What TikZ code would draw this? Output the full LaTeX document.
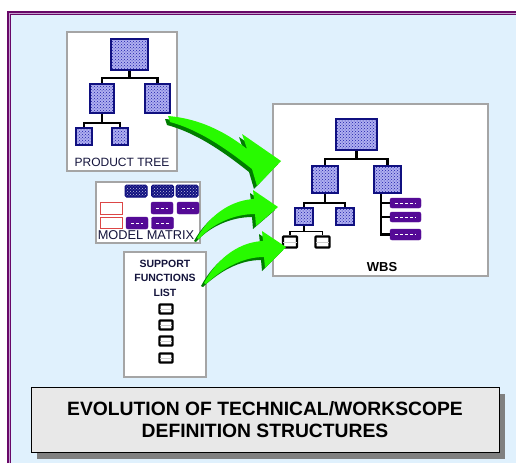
\documentclass[tikz,border=0pt]{standalone}
\usepackage{fontspec}
\setmainfont{Liberation Sans}
\usetikzlibrary{patterns,shadows}

\definecolor{navyb}{RGB}{16,16,128}
\definecolor{dotblue}{RGB}{30,30,170}
\definecolor{dotback}{RGB}{175,175,240}
\definecolor{purpbar}{RGB}{84,10,150}
\definecolor{framepurple}{RGB}{104,8,104}
\definecolor{framelight}{RGB}{196,160,206}
\definecolor{bgblue}{RGB}{224,241,253}
\definecolor{panelgray}{RGB}{165,165,165}
\definecolor{arrowgreen}{RGB}{40,250,0}
\definecolor{arrowdark}{RGB}{0,125,0}
\definecolor{titlegray}{RGB}{232,232,232}
\definecolor{shadowgray}{RGB}{128,128,128}
\definecolor{redbox}{RGB}{220,70,70}
\definecolor{textnavy}{RGB}{20,20,60}

\begin{document}
\begin{tikzpicture}[x=1pt, y=-1pt,
    panel/.style={draw=panelgray, fill=white, line width=1.2pt, inner sep=0pt},
    orgbox/.style={draw=navyb, line width=2.2pt, preaction={fill=dotback},
        pattern=crosshatch dots, pattern color=dotblue, inner sep=0pt},
    treeline/.style={black, line width=2.4pt},
    listbox/.style={draw=black, fill=white, line width=2.2pt, rounded corners=0.6pt,
        minimum width=13pt, minimum height=9pt, inner sep=0pt},
    topcell/.style={draw=navyb, line width=1pt, rounded corners=1.5pt, preaction={fill=navyb},
        pattern=crosshatch dots, pattern color=white!75!navyb,
        minimum width=22pt, minimum height=12pt, inner sep=0pt},
    barcell/.style={draw=purpbar, fill=purpbar, rounded corners=2pt,
        minimum width=22pt, minimum height=12pt, inner sep=0pt},
    redcell/.style={draw=redbox, fill=white, line width=0.8pt,
        minimum width=22pt, minimum height=12pt, inner sep=0pt},
    label/.style={text=textnavy, inner sep=0pt}]

    \useasboundingbox (0,0) rectangle (516,463);

    % Marco
    \fill[bgblue] (7,11) rectangle (516,463);
    \draw[framepurple, line width=2pt] (8,463) -- (8,12) -- (516,12);
    \draw[framelight, line width=1pt] (9.5,463) -- (9.5,13.5) -- (516,13.5);
    \draw[framepurple, line width=1pt] (10.5,463) -- (10.5,14.5) -- (516,14.5);

    % Product tree
    \node[panel, minimum width=110pt, minimum height=139pt] (ptree) at (122,101.5) {};
    \node[orgbox, minimum width=37pt, minimum height=31pt] (pt0) at (129.5,54.5) {};
    \node[orgbox, minimum width=24pt, minimum height=29pt] (pt1) at (102,98.5) {};
    \node[orgbox, minimum width=25pt, minimum height=29pt] (pt2) at (157.5,98.5) {};
    \node[orgbox, minimum width=16pt, minimum height=17pt] (pt3) at (84,136.5) {};
    \node[orgbox, minimum width=16pt, minimum height=17pt] (pt4) at (120,136.5) {};
    \draw[treeline] (pt0.south) -- ++(0,7) coordinate (ptj0) -| (pt1.north);
    \draw[treeline] (ptj0) -| (pt2.north);
    \draw[treeline] (pt1.south) -- ++(0,9) coordinate (ptj1) -| (pt3.north);
    \draw[treeline] (ptj1) -| (pt4.north);
    \node[label, font=\fontsize{12}{14}\selectfont] (ptlabel) at (122,162) {PRODUCT TREE};

    % Model matrix
    \node[panel, minimum width=104pt, minimum height=61pt] (mmat) at (148,212.5) {};
    \node[topcell] (mm1) at (136,191) {};
    \node[topcell] (mm2) at (162.5,191) {};
    \node[topcell] (mm3) at (187,191) {};
    \node[redcell] (mm4) at (111,208) {};
    \node[barcell] (mm5) at (162,208) {};
    \node[barcell] (mm6) at (188,208) {};
    \node[redcell, minimum height=11pt] (mm7) at (111,222.5) {};
    \node[barcell] (mm8) at (137,223) {};
    \node[barcell] (mm9) at (162.5,223) {};
    \foreach \n in {mm5,mm6,mm8,mm9}
        \draw[white, line width=1pt, densely dashed] ([xshift=5pt]\n.west) -- ([xshift=-5pt]\n.east);
    \node[label, font=\fontsize{12.8}{14}\selectfont] (mmlabel) at (146,235.5) {MODEL MATRIX};

    % Support functions list
    \node[panel, minimum width=82pt, minimum height=125pt] (sfl) at (165,314.5) {};
    \node[label, align=center, font=\bfseries\fontsize{10.5}{14.5}\selectfont] (sflabel) at (165,278)
        {SUPPORT\\FUNCTIONS\\LIST};
    \foreach \y [count=\i] in {309,325,341,358} {
        \node[listbox] (sf\i) at (166,\y) {};
        \draw[gray!40, line width=0.4pt] ([xshift=1.5pt]sf\i.west) -- ([xshift=-1.5pt]sf\i.east);
    }

    % WBS
    \node[panel, minimum width=215pt, minimum height=172pt] (wbs) at (380.5,190) {};
    \node[orgbox, minimum width=41pt, minimum height=31pt] (w0) at (356.5,134.5) {};
    \node[orgbox, minimum width=26pt, minimum height=27pt] (w1) at (325,179.5) {};
    \node[orgbox, minimum width=27pt, minimum height=27pt] (w2) at (387.5,179.5) {};
    \node[orgbox, minimum width=18pt, minimum height=17pt] (w3) at (304,216.5) {};
    \node[orgbox, minimum width=18pt, minimum height=17pt] (w4) at (345,216.5) {};
    \node[listbox, minimum width=14pt, minimum height=11pt] (w5) at (290,242) {};
    \node[listbox, minimum width=14pt, minimum height=11pt] (w6) at (322.5,242) {};
    \draw[gray!40, line width=0.4pt] ([xshift=1.5pt]w5.west) -- ([xshift=-1.5pt]w5.east);
    \draw[gray!40, line width=0.4pt] ([xshift=1.5pt]w6.west) -- ([xshift=-1.5pt]w6.east);
    \node[barcell, minimum width=31pt, minimum height=10pt] (w7) at (405.5,203) {};
    \node[barcell, minimum width=31pt, minimum height=10pt] (w8) at (405.5,217) {};
    \node[barcell, minimum width=31pt, minimum height=11pt] (w9) at (405.5,234.5) {};
    \foreach \n in {w7,w8,w9}
        \draw[white, line width=1pt, densely dashed] ([xshift=5pt]\n.west) -- ([xshift=-5pt]\n.east);
    \draw[treeline] (w0.south) -- ++(0,8) coordinate (wj0) -| (w1.north);
    \draw[treeline] (wj0) -| (w2.north);
    \draw[treeline] (w1.south) -- ++(0,9) coordinate (wj1) -| (w3.north);
    \draw[treeline] (wj1) -| (w4.north);
    \draw[black, line width=1.2pt] (w3.south) -- ++(0,5) coordinate (wj2) -| (w5.north);
    \draw[black, line width=1.2pt] (wj2) -| (w6.north);
    \draw[treeline] ([xshift=-6.5pt]w2.south) |- (w9.west);
    \draw[treeline] ([xshift=-6.5pt]w2.south |- w7.west) -- (w7.west);
    \draw[treeline] ([xshift=-6.5pt]w2.south |- w8.west) -- (w8.west);
    \node[text=black, font=\bfseries\fontsize{13}{15}\selectfont, inner sep=0pt] (wbslabel) at (382,267) {WBS};

    % Flechas verdes
    \foreach \c/\dx/\dy in {arrowdark/-3/3, arrowgreen/0/0} {
        \begin{scope}[shift={(\dx,\dy)}]
            \fill[\c] (168,116) .. controls (205,119) and (232,137) .. (247,149)
                -- (242,134) -- (281,161) -- (257,186) -- (252,169)
                .. controls (228,150) and (200,130) .. (170,122) -- cycle;
            \fill[\c] (197,238) .. controls (212,211) and (235,200) .. (254,199)
                -- (253,190) -- (278,207) -- (256,226) -- (255,214)
                .. controls (235,214) and (213,223) .. (199,239) -- cycle;
            \fill[\c] (204,283) .. controls (218,257) and (240,242) .. (263,241)
                -- (262,231) -- (286,247) -- (265,268) -- (264,257)
                .. controls (242,257) and (222,269) .. (206,284) -- cycle;
        \end{scope}
    }

    % Titulo
    \node[draw=black, fill=titlegray, line width=0.8pt, minimum width=468pt, minimum height=65pt,
        align=center, font=\bfseries\fontsize{19.3}{21.5}\selectfont,
        drop shadow={shadow xshift=6pt, shadow yshift=-7pt, fill=shadowgray, opacity=1}]
        (title) at (265,419.5) {EVOLUTION OF TECHNICAL/WORKSCOPE\\DEFINITION STRUCTURES};
\end{tikzpicture}
\end{document}
